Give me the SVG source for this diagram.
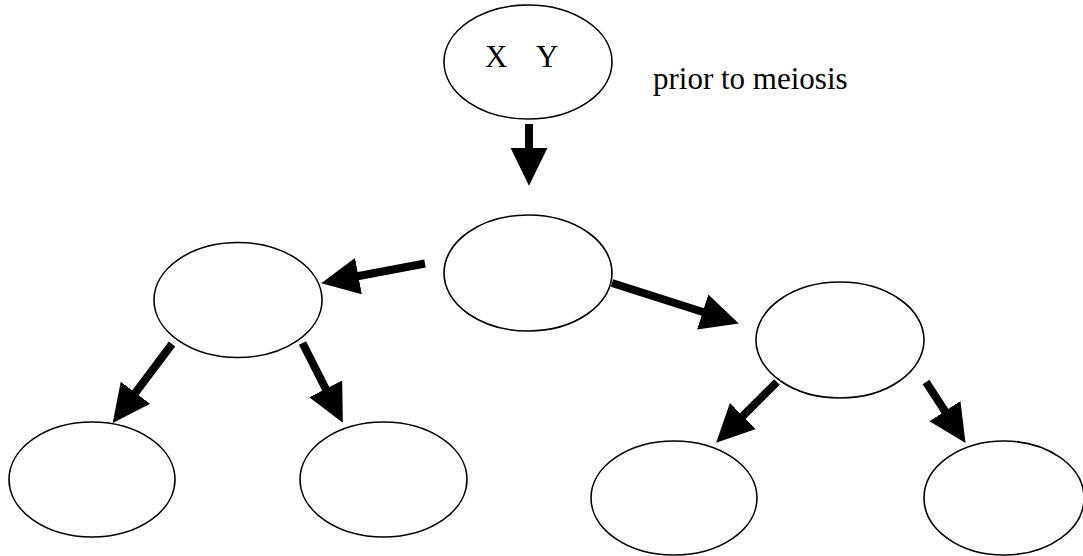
<svg xmlns="http://www.w3.org/2000/svg" width="1083" height="556" viewBox="0 0 1083 556">
  <style>
    .node { fill: #ffffff; stroke: #000000; stroke-width: 1.6; }
    .lbl { font-family: "Liberation Serif", "Times New Roman", serif; font-size: 31px; fill: #000000; }
    .conn { stroke: #000000; stroke-width: 8; fill: none; marker-end: url(#head); }
  </style>
  <defs>
    <marker id="head" markerUnits="userSpaceOnUse" markerWidth="40" markerHeight="40" refX="0" refY="0" viewBox="-1 -19 38 38" orient="auto">
      <path d="M-1,-17.5 L35,0 L-1,17.5 Z" fill="#000000"/>
    </marker>
  </defs>
  <rect x="0" y="0" width="1083" height="556" fill="#ffffff"/>
  <g id="top">
    <ellipse class="node" cx="528" cy="62" rx="84" ry="57"/>
    <text class="lbl" y="67"><tspan x="485">X</tspan><tspan x="536">Y</tspan></text>
  </g>
  <g id="note">
    <text class="lbl" x="653" y="89">prior to meiosis</text>
  </g>
  <g id="middle">
    <ellipse class="node" cx="528" cy="273" rx="84" ry="58"/>
  </g>
  <g id="leftMid">
    <ellipse class="node" cx="238" cy="300" rx="84" ry="57.5"/>
  </g>
  <g id="rightMid">
    <ellipse class="node" cx="840" cy="340" rx="84" ry="58"/>
  </g>
  <g id="b1">
    <ellipse class="node" cx="92" cy="479.5" rx="83" ry="57.5"/>
  </g>
  <g id="b2">
    <ellipse class="node" cx="383.5" cy="479.5" rx="83.5" ry="57.5"/>
  </g>
  <g id="b3">
    <ellipse class="node" cx="674" cy="498" rx="83" ry="57"/>
  </g>
  <g id="b4">
    <ellipse class="node" cx="1004" cy="498" rx="80" ry="57"/>
  </g>
  <g id="connectors">
    <line class="conn" x1="529" y1="124" x2="529" y2="149"/>
    <line class="conn" x1="425" y1="263.5" x2="357.4" y2="276.3"/>
    <line class="conn" x1="612" y1="283" x2="703.7" y2="312.3"/>
    <line class="conn" x1="172" y1="344" x2="134.8" y2="393.6"/>
    <line class="conn" x1="302.5" y1="343" x2="326.2" y2="389.8"/>
    <line class="conn" x1="777" y1="382" x2="742.2" y2="416.7"/>
    <line class="conn" x1="926" y1="382" x2="945.5" y2="412"/>
  </g>
</svg>
